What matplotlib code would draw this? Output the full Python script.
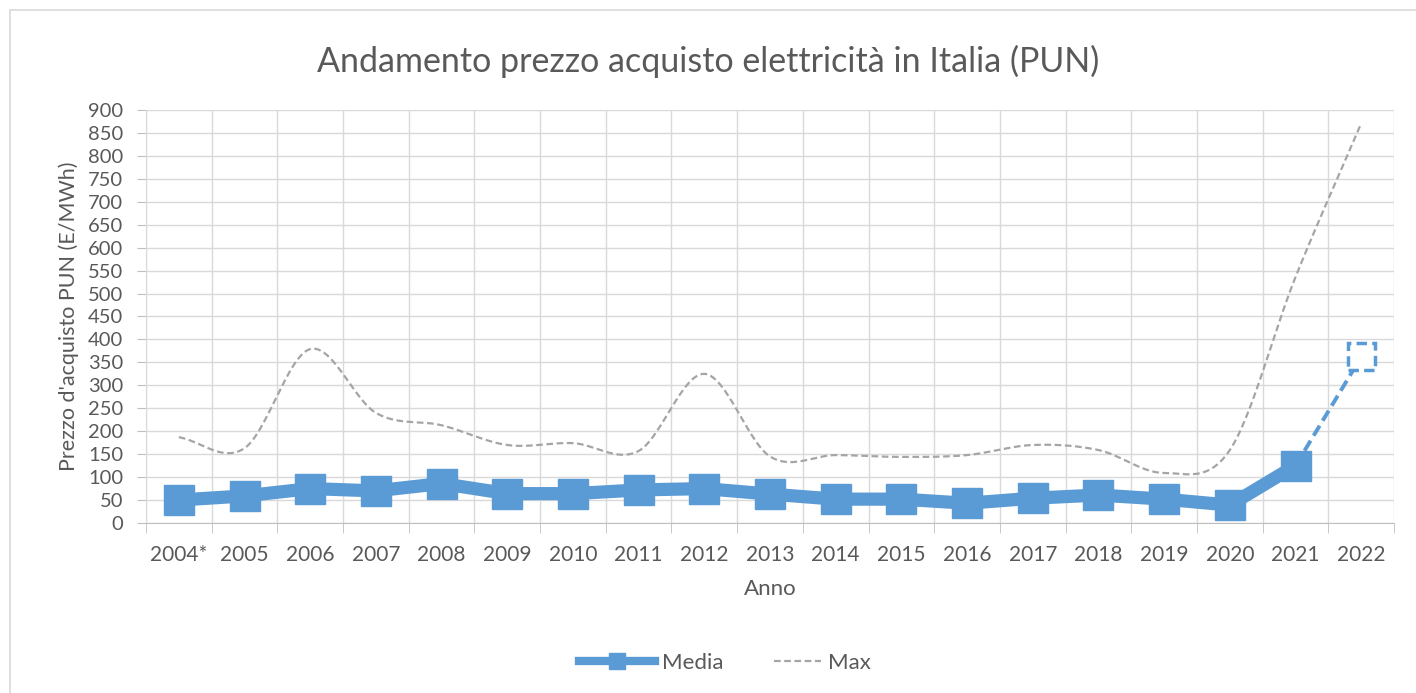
import matplotlib.pyplot as plt
import matplotlib.transforms as mtransforms
import numpy as np

plt.rcParams['font.family'] = ['Lato', 'DejaVu Sans']

anni = ["2004*", "2005", "2006", "2007", "2008", "2009", "2010", "2011", "2012", "2013",
        "2014", "2015", "2016", "2017", "2018", "2019", "2020", "2021", "2022"]
media = [50, 59, 75, 70, 86, 64, 64, 72, 75, 63, 52, 52, 43, 54, 61, 52, 39, 125, 362]
massimo = [187, 163, 379, 240, 213, 170, 174, 157, 325, 145, 148, 144, 148, 170, 159, 109, 159, 536, 871]

blu = '#5B9BD5'
grigio = '#595959'


def smooth(x, y, n=30):
    # Catmull-Rom, simile alla linea "smussata" di Excel
    x = np.asarray(x, float)
    y = np.asarray(y, float)
    px = np.concatenate([[2 * x[0] - x[1]], x, [2 * x[-1] - x[-2]]])
    py = np.concatenate([[2 * y[0] - y[1]], y, [2 * y[-1] - y[-2]]])
    xs, ys = [], []
    t = np.linspace(0, 1, n)
    for i in range(1, len(px) - 2):
        for p, out in ((px, xs), (py, ys)):
            p0, p1, p2, p3 = p[i - 1], p[i], p[i + 1], p[i + 2]
            out.extend(0.5 * ((2 * p1) + (-p0 + p2) * t + (2 * p0 - 5 * p1 + 4 * p2 - p3) * t ** 2
                              + (-p0 + 3 * p1 - 3 * p2 + p3) * t ** 3))
    return np.array(xs), np.array(ys)


x = np.arange(len(anni))

fig = plt.figure(figsize=(14.16, 6.93), dpi=100)
ax = fig.add_axes([0.1031, 0.2453, 0.8814, 0.596])

sx, sy = smooth(x, massimo)
ax.plot(sx, sy, color='#A5A5A5', lw=1.6, ls=(0, (3, 1.6)), label='Max', zorder=2)

ax.plot(x[:-1], media[:-1], color=blu, lw=9.5, marker='s', ms=21, solid_joinstyle='miter',
        label='Media', zorder=3)
ax.plot(x[-2:], media[-2:], color=blu, lw=2.8, ls=(0, (3, 1.5)), zorder=2)

# marcatore vuoto tratteggiato per il 2022
tr = fig.dpi_scale_trans + mtransforms.ScaledTranslation(x[-1], media[-1], ax.transData)
ax.add_patch(plt.Rectangle((-0.135, -0.135), 0.27, 0.27, transform=tr, fc='white', ec=blu,
                           lw=2.5, ls=(0, (3, 1.5)), zorder=4))

ax.set_xlim(-0.5, len(anni) - 0.5)
ax.set_ylim(0, 900)
ax.set_yticks(np.arange(0, 901, 50))
ax.set_xticks(x)
ax.set_xticklabels(anni)
ax.set_xticks(np.arange(-0.5, len(anni), 1), minor=True)
ax.tick_params(axis='x', which='major', length=0, pad=16, labelsize=15, labelcolor=grigio)
ax.tick_params(axis='x', which='minor', length=7, color='#BFBFBF')
ax.tick_params(axis='y', length=6.5, color='#BFBFBF', labelsize=14.5, labelcolor=grigio, pad=10)
ax.grid(True, which='minor', axis='x', color='#D9D9D9', lw=1)
ax.grid(True, which='major', axis='y', color='#D9D9D9', lw=1)
for s in ['top', 'right']:
    ax.spines[s].set_visible(False)
ax.spines['left'].set_color('#D9D9D9')
ax.spines['bottom'].set_color('#BFBFBF')
ax.set_axisbelow(True)

ax.set_xlabel('Anno', fontsize=16, color=grigio, labelpad=10)
ax.set_ylabel("Prezzo d'acquisto PUN (E/MWh)", fontsize=15.5, color=grigio, labelpad=6)
fig.suptitle('Andamento prezzo acquisto elettricità in Italia (PUN)', fontsize=24.5,
             color=grigio, y=0.935)

h, l = ax.get_legend_handles_labels()
leg = fig.legend(h[::-1], l[::-1], loc='center', bbox_to_anchor=(0.512, 0.044), ncol=2,
                 frameon=False, fontsize=16, labelcolor=grigio, handlelength=3.4,
                 handletextpad=0.3, columnspacing=1.0)
leg.get_lines()[0].set_linewidth(6)
leg.get_lines()[0].set_markersize(12)
# linea "Max" piu' corta nella legenda, come in Excel
lmax = leg.get_lines()[1]
xd = np.asarray(lmax.get_xdata(), float)
x0, x1 = xd.min(), xd.max()
lmax.set_data([x0 + (x1 - x0) * 0.38, x1], [lmax.get_ydata()[0]] * 2)

fig.patches.append(plt.Rectangle((0.007, -0.01), 1.5, 0.995, transform=fig.transFigure,
                                 fill=False, ec='#D9D9D9', lw=1.2))

fig.savefig('out.png', dpi=100)
